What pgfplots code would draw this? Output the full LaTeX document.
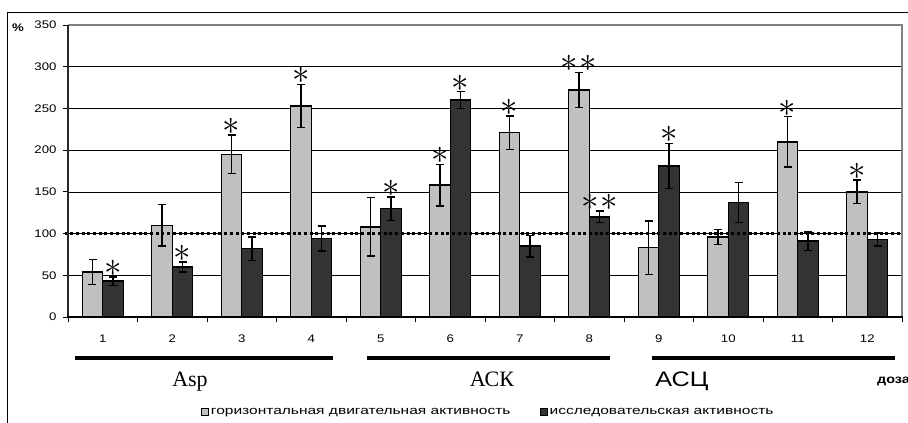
\documentclass[border=0pt]{standalone}
\usepackage{fontspec}
\setmainfont{Liberation Sans}[FakeStretch=1.2]
\newfontfamily\legfont{Liberation Sans}[FakeStretch=1.35]
\newfontfamily\timesf{Liberation Serif}
\newfontfamily\sansbig{Liberation Sans}[FakeStretch=1.2]
\usepackage{graphicx}
\usepackage{pgfplots}
\pgfplotsset{compat=1.18}
\definecolor{lightbar}{HTML}{C0C0C0}
\definecolor{darkbar}{HTML}{333333}
\definecolor{bordergray}{HTML}{808080}
\newcommand\sig{\scalebox{1.4}{$\ast$}}
\newcommand\sigg{\scalebox{1.4}{$\ast\mkern1mu\ast$}}

\begin{document}
\begin{tikzpicture}
\begin{axis}[
  name=ax,
  width=834pt, height=292pt, scale only axis,
  ybar, bar width=20.5pt,
  xmin=0.5, xmax=12.5, ymin=0, ymax=350,
  ytick={0,50,...,350},
  xtick={1,...,12},
  minor xtick={0.5,1.5,...,12.5},
  tick pos=left, tick align=outside,
  major tick length=5pt, minor tick length=5pt,
  major x tick style={draw=none},
  minor x tick style={black, line width=0.8pt},
  y tick style={black, line width=0.8pt},
  ymajorgrids, grid style={black, line width=0.7pt},
  axis line style={draw=none},
  clip=false,
  /pgf/number format/assume math mode=true,
  ticklabel style={font=\fontsize{11}{13}\selectfont},
  yticklabel style={xshift=-3pt},
  xticklabel style={yshift=-9pt},
  error bars/error bar style={line width=1.4pt, black},
  error bars/error mark options={rotate=90, mark size=4pt, line width=1.4pt, black},
  legend columns=2,
  legend style={at={(axis description cs:0.1595,-0.3253)}, anchor=west, draw=none, fill=none, inner sep=0pt,
    font=\legfont\fontsize{11.5}{13}\selectfont,
    /tikz/every even column/.append style={column sep=28pt}, nodes={inner sep=1.5pt}},
]
% light bars
\addplot[bar shift=-10.25pt, fill=lightbar, draw=black, line width=1.4pt, forget plot,
  error bars/.cd, y dir=both, y explicit] coordinates {
  (1,54) +- (0,15)
  (2,110) +- (0,25)
  (3,195) +- (0,23)
  (4,253) +- (0,26)
  (5,108) +- (0,35)
  (6,158) +- (0,25)
  (7,221) +- (0,20)
  (8,272) +- (0,21)
  (9,83) +- (0,32)
  (10,96) +- (0,9)
  (11,210) +- (0,30)
  (12,150) +- (0,14)
};
% dark bars
\addplot[bar shift=10.25pt, fill=darkbar, draw=black, line width=1.4pt, forget plot,
  error bars/.cd, y dir=both, y explicit] coordinates {
  (1,43) +- (0,5)
  (2,60) +- (0,6)
  (3,82) +- (0,14)
  (4,94) +- (0,15)
  (5,130) +- (0,14)
  (6,260) +- (0,10)
  (7,85) +- (0,13)
  (8,120) +- (0,7)
  (9,181) +- (0,27)
  (10,137) +- (0,24)
  (11,91) +- (0,11)
  (12,93) +- (0,8)
};
% significance marks, light
\addplot[bar shift=-10.25pt, draw=none, fill=none, forget plot,
  point meta=explicit symbolic, nodes near coords,
  nodes near coords style={anchor=south, inner sep=0pt, yshift=0.5pt, font=\fontsize{24}{24}\selectfont}]
  coordinates {
  (3,218) [\sig]
  (4,279) [\sig]
  (6,183) [\sig]
  (7,241) [\sig]
  (8,293) [\sigg]
  (11,240) [\sig]
  (12,164) [\sig]
};
% significance marks, dark
\addplot[bar shift=10.25pt, draw=none, fill=none, forget plot,
  point meta=explicit symbolic, nodes near coords,
  nodes near coords style={anchor=south, inner sep=0pt, yshift=0.5pt, font=\fontsize{24}{24}\selectfont}]
  coordinates {
  (1,48) [\sig]
  (2,66) [\sig]
  (5,144) [\sig]
  (6,270) [\sig]
  (8,127) [\sigg]
  (9,208) [\sig]
};
% reference line at 100 %
\addplot[sharp plot, bar shift=0pt, black, line width=2.6pt, dash pattern=on 3pt off 2.7pt, forget plot]
  coordinates {(0.45,100) (12.5,100)};
\addlegendimage{legend image code/.code={\draw[fill=lightbar, draw=black, line width=1.2pt] (0pt,-3.5pt) rectangle (7pt,3.5pt);}}
\addlegendentry{горизонтальная двигательная активность}
\addlegendimage{legend image code/.code={\draw[fill=darkbar, draw=black, line width=1.2pt] (0pt,-3.5pt) rectangle (7pt,3.5pt);}}
\addlegendentry{исследовательская активность}
\end{axis}
\begin{scope}[shift={(ax.south west)}, xshift=-68pt, yshift=-106pt, x=1pt, y=1pt]
\pgfresetboundingbox
\path[use as bounding box] (0,0) rectangle (908,423);
\draw[black, line width=1pt] (8,0) -- (8,410) -- (908,410);
% plot-area borders
\draw[bordergray, line width=1.7pt] (68,398) -- (902,398) -- (902,106);
\draw[black!85, line width=1.3pt] (68,106) -- (68,398);
\draw[black, line width=1.5pt] (67.3,106) -- (902.8,106);
% percent sign
\node[anchor=base west, inner sep=0pt, font=\bfseries\fontsize{11}{13}\selectfont] at (12,391.5) {\%};
% group bars and labels
\draw[line width=4pt] (75,65) -- (333,65);
\draw[line width=4pt] (367,65) -- (610,65);
\draw[line width=4pt] (652,65) -- (895,65);
\node[anchor=base, inner sep=0pt, font=\timesf\fontsize{22}{24}\selectfont] at (190,36.5) {Asp};
\node[anchor=base, inner sep=0pt, font=\timesf\fontsize{22}{24}\selectfont] at (492,36.5) {АСК};
\node[anchor=base, inner sep=0pt, font=\sansbig\fontsize{21}{24}\selectfont] at (682,36.5) {АСЦ};
\node[anchor=base west, inner sep=0pt, font=\bfseries\fontsize{12}{14}\selectfont] at (877,39.7) {доза};
\end{scope}
\end{tikzpicture}
\end{document}
